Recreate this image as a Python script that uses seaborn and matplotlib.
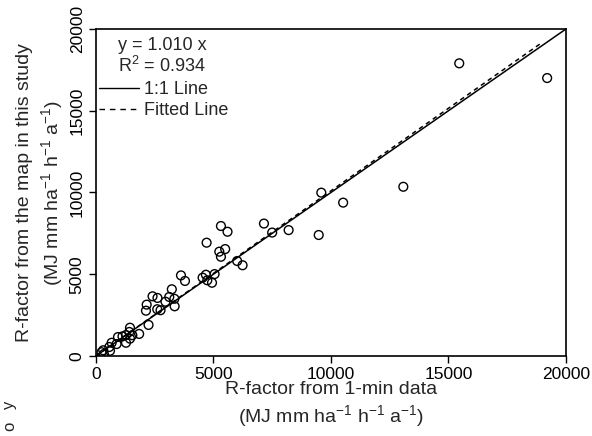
import numpy as np
import pandas as pd
import seaborn as sns
import matplotlib.pyplot as plt

# R-factor values (MJ mm ha-1 h-1 a-1)
r_1min = [240, 310, 340, 570, 600, 670, 880, 940, 1130, 1280, 1280, 1420, 1450, 1450,
          1550, 1840, 2130, 2160, 2240, 2410, 2610, 2620, 2750, 2960, 3120, 3230,
          3340, 3350, 3620, 3790, 4540, 4680, 4710, 4740, 4940, 5050, 5250, 5320,
          5320, 5500, 5600, 6010, 6240, 7150, 7500, 8200, 9480, 9590, 10520, 13080,
          15460, 19200]
r_map = [230, 350, 120, 550, 320, 810, 730, 1160, 1200, 1280, 810, 1470, 1730, 1060,
         1270, 1350, 2770, 3140, 1900, 3650, 2860, 3550, 2800, 3320, 3610, 4080,
         3500, 3040, 4930, 4590, 4790, 4970, 6930, 4630, 4480, 5010, 6380, 7950,
         6070, 6540, 7600, 5810, 5550, 8100, 7550, 7700, 7400, 9990, 9380, 10350,
         17900, 17000]

slope = 1.010
r2 = 0.934
one_to_one_x = [0, 20000]
fitted_x = [0, 18900]

df = pd.DataFrame({"x": r_1min, "y": r_map})
lines = pd.DataFrame({
    "x": one_to_one_x + fitted_x,
    "y": one_to_one_x + [v * slope for v in fitted_x],
    "kind": ["1:1 Line"] * 2 + ["Fitted Line"] * 2,
})

sns.set_style("ticks")
plt.rcParams["font.family"] = ["Liberation Sans", "DejaVu Sans"]
plt.rcParams["mathtext.fontset"] = "custom"
plt.rcParams["mathtext.rm"] = "Liberation Sans"

fig = plt.figure(figsize=(5.92, 4.36), dpi=100)
ax = fig.add_axes([0.162, 0.1835, 0.794, 0.75])

sns.lineplot(data=lines, x="x", y="y", style="kind", dashes={"1:1 Line": "", "Fitted Line": (3, 2.5)},
             color="black", linewidth=1.1, ax=ax, legend=False)
sns.scatterplot(data=df, x="x", y="y", s=40, facecolor="none", edgecolor="black",
                linewidth=1.0, ax=ax, zorder=3)

ax.set_xlim(0, 20000)
ax.set_ylim(0, 20000)
ax.set_xticks([0, 5000, 10000, 15000, 20000])
ax.set_yticks([0, 5000, 10000, 15000, 20000])
ax.tick_params(labelsize=12.5, length=5, width=1, colors="black", pad=3)
plt.setp(ax.get_yticklabels(), rotation=90, va="center")
for s in ax.spines.values():
    s.set_linewidth(1.2)
    s.set_color("black")

unit = "(MJ mm ha$^{\\mathregular{-1}}$ h$^{\\mathregular{-1}}$ a$^{\\mathregular{-1}}$)"
ax.set_xlabel("R-factor from 1-min data\n" + unit, fontsize=14, labelpad=-1, linespacing=1.3)
ax.set_ylabel("R-factor from the map in this study\n" + unit, fontsize=14, labelpad=3, linespacing=1.3)

# legend block top left
ax.text(0.047, 0.95, f"y = {slope:.3f} x", transform=ax.transAxes, fontsize=13, va="center")
ax.text(0.047, 0.888, f"R$^{{\\mathregular{{2}}}}$ = {r2:.3f}", transform=ax.transAxes, fontsize=13, va="center")
h1, = ax.plot([], [], color="black", lw=1.0)
h2, = ax.plot([], [], color="black", lw=1.0, ls=(0, (4, 3.5)))
ax.legend([h1, h2], ["1:1 Line", "Fitted Line"], loc="upper left", bbox_to_anchor=(-0.02, 0.88),
          frameon=False, fontsize=13, handlelength=2.2, handletextpad=0.3, labelspacing=0.25,
          borderaxespad=0.3)

# fragments of the neighbouring panel at the lower left edge
fig.text(0.003, 0.072, "y", rotation=90, fontsize=12, va="center", ha="left")
fig.text(0.003, 0.022, "o", rotation=90, fontsize=12, va="center", ha="left")

fig.savefig("out.png", dpi=100)
